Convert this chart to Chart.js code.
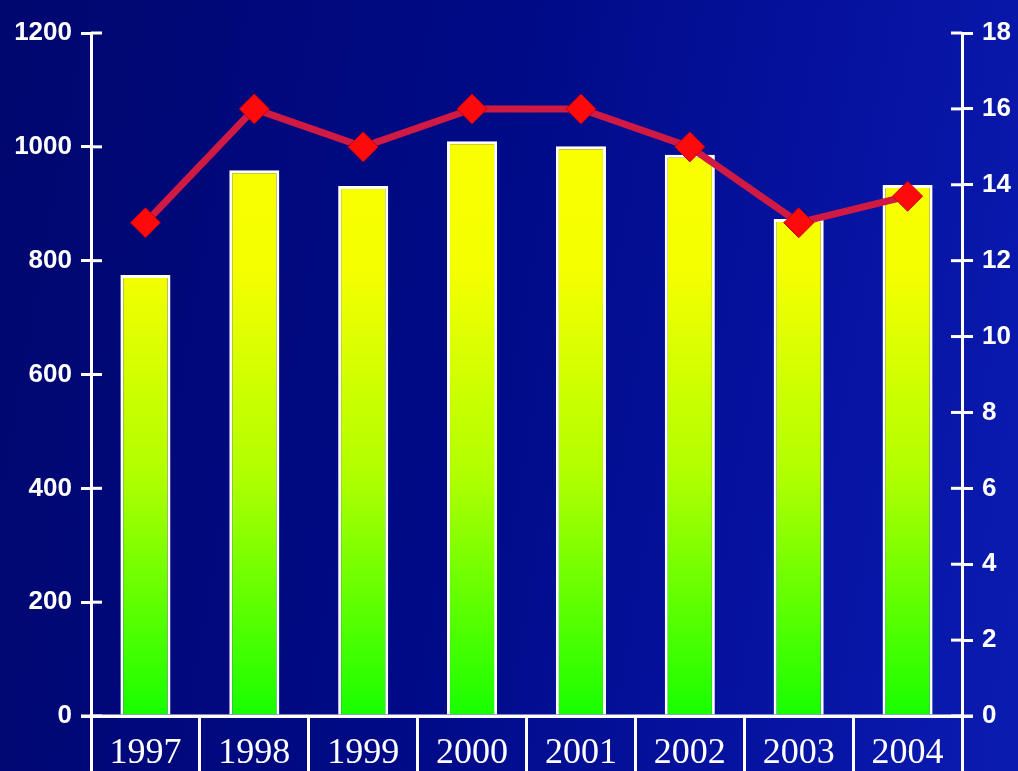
<!DOCTYPE html>
<html>
<head>
<meta charset="utf-8">
<script src="https://cdn.jsdelivr.net/npm/chart.js@4"></script>
<style>
    html, body { margin: 0; padding: 0; }
    body {
        width: 1018px; height: 771px; overflow: hidden;
        background: linear-gradient(100deg, #00076e 0%, #000a86 45%, #0714a4 80%, #0a1cb0 100%);
    }
    #wrap { position: relative; width: 1018px; height: 771px; }
</style>
</head>
<body>
<div id="wrap"><canvas id="plot1" width="1018" height="771"></canvas></div>
<script>
const years = ['1997', '1998', '1999', '2000', '2001', '2002', '2003', '2004'];
const barValues = [775, 959, 931, 1010, 1001, 986, 873, 933];
const lineValues = [13, 16, 15, 16, 16, 15, 13, 13.7];
const leftTicks = [0, 200, 400, 600, 800, 1000, 1200];
const rightTicks = [0, 2, 4, 6, 8, 10, 12, 14, 16, 18];

const fuenteTicks = "'Liberation Sans Narrow', 'Arial Narrow', 'Liberation Sans', sans-serif";

let ctx = document.getElementById('plot1').getContext('2d');

// degradado amarillo -> verde segun el area del grafico
let degradado = (context) => {
    const area = context.chart.chartArea;
    if (!area) return '#ffff00';
    const g = context.chart.ctx.createLinearGradient(0, area.top, 0, area.bottom);
    g.addColorStop(0, '#ffff00');
    g.addColorStop(0.35, '#f4ff00');
    g.addColorStop(0.65, '#b0ff00');
    g.addColorStop(1, '#18ff00');
    return g;
}

// marcas de los ejes que cruzan la linea del eje
const marcasInternas = {
    id: 'marcasInternas',
    afterDraw(chart) {
        const c = chart.ctx;
        const area = chart.chartArea;
        c.save();
        c.strokeStyle = '#ffffff';
        c.lineWidth = 3;
        chart.scales.y.ticks.forEach(t => {
            const py = chart.scales.y.getPixelForValue(t.value);
            c.beginPath(); c.moveTo(area.left, py); c.lineTo(area.left + 11, py); c.stroke();
        });
        chart.scales.y1.ticks.forEach(t => {
            const py = chart.scales.y1.getPixelForValue(t.value);
            c.beginPath(); c.moveTo(area.right - 11, py); c.lineTo(area.right, py); c.stroke();
        });
        c.beginPath(); c.moveTo(area.left - 10, area.bottom); c.lineTo(area.right + 11, area.bottom); c.stroke();
        c.restore();
    }
}

let data = {
    labels: years,
    datasets: [{
        type: 'line',
        label: 'linea',
        data: lineValues,
        yAxisID: 'y1',
        borderColor: '#d01a44',
        borderWidth: 7,
        pointStyle: 'rectRot',
        pointRadius: 15,
        pointBackgroundColor: '#ff0a0a',
        pointBorderColor: '#c00010',
        pointBorderWidth: 1,
        tension: 0,
        order: 0
    }, {
        type: 'bar',
        label: 'barras',
        data: barValues,
        yAxisID: 'y',
        backgroundColor: degradado,
        borderColor: '#ffffff',
        borderWidth: 3,
        borderSkipped: 'bottom',
        barPercentage: 0.46,
        categoryPercentage: 1,
        order: 1
    }]
};

let config = {
    responsive: false,
    animation: false,
    layout: { padding: { top: 33, left: 0, right: 0, bottom: 0 } },
    plugins: { legend: { display: false }, tooltip: { enabled: false } },
    scales: {
        x: {
            offset: true,
            grid: { offset: true, drawOnChartArea: false, color: '#ffffff', lineWidth: 3, tickLength: 55 },
            border: { display: true, color: '#ffffff', width: 3 },
            ticks: {
                color: '#ffffff',
                padding: -39,
                font: { family: "'Liberation Serif', 'Times New Roman', serif", size: 36 }
            },
            afterFit: (scale) => { scale.height = 55 }
        },
        y: {
            position: 'left',
            min: 0, max: 1200,
            afterBuildTicks: (scale) => { scale.ticks = leftTicks.map(v => ({ value: v })) },
            grid: { drawOnChartArea: false, color: '#ffffff', lineWidth: 3, tickLength: 10 },
            border: { display: true, color: '#ffffff', width: 3 },
            ticks: {
                color: '#ffffff',
                padding: 9,
                callback: (v) => String(v),
                font: { family: fuenteTicks, size: 26, weight: 'bold' }
            },
            afterFit: (scale) => { scale.width = 91 }
        },
        y1: {
            position: 'right',
            min: 0, max: 18,
            afterBuildTicks: (scale) => { scale.ticks = rightTicks.map(v => ({ value: v })) },
            grid: { drawOnChartArea: false, color: '#ffffff', lineWidth: 3, tickLength: 11 },
            border: { display: true, color: '#ffffff', width: 3 },
            ticks: {
                color: '#ffffff',
                padding: 9,
                callback: (v) => String(v),
                font: { family: fuenteTicks, size: 26, weight: 'bold' }
            },
            afterFit: (scale) => { scale.width = 56 }
        }
    }
};

let grafica1 = new Chart(ctx, {
    type: 'bar',
    data: data,
    options: config,
    plugins: [marcasInternas]
});
</script>
</body>
</html>
